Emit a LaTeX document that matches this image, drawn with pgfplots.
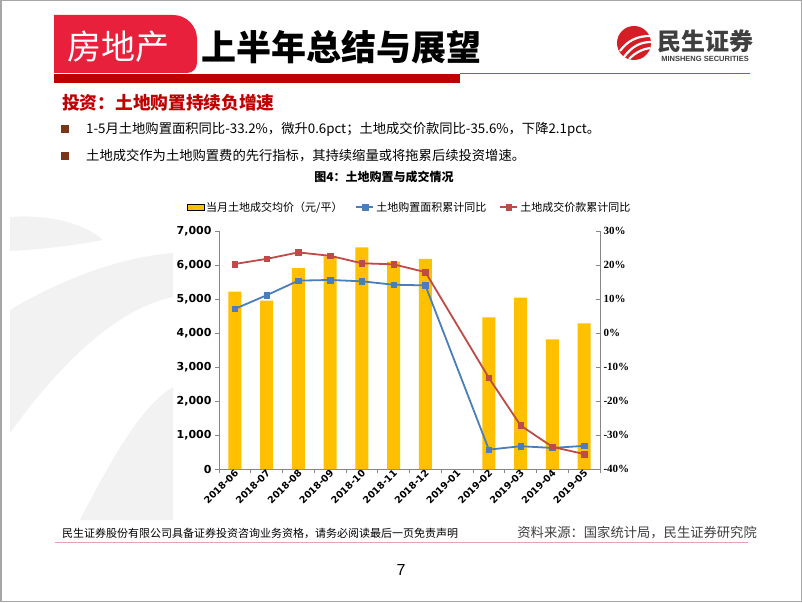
\documentclass[border=0pt]{standalone}
\usepackage{pgfplots}
\pgfplotsset{compat=1.18}
\usepackage{fontspec}
\setmainfont{Liberation Sans}
\newfontfamily\cjk{Noto Sans CJK SC}
\newfontfamily\tnrb{Liberation Serif Bold}
\newfontfamily\tah{DejaVu Sans}

\definecolor{barGold}{HTML}{FFC000}
\definecolor{lineBlue}{HTML}{4A7EBB}
\definecolor{lineRed}{HTML}{BE4B48}
\definecolor{axisgray}{HTML}{868686}
\definecolor{hdrRed}{HTML}{E9203B}
\definecolor{barRed}{HTML}{C00000}
\definecolor{bulletBrown}{HTML}{7B3518}
\definecolor{wmGray}{HTML}{F2F2F2}
\definecolor{logoRed}{HTML}{D41D24}
\definecolor{logoGray}{HTML}{3F3F3F}
\definecolor{pinkLine}{HTML}{E6A3B4}

\begin{document}
\begin{tikzpicture}[x=1pt,y=1pt]
\useasboundingbox (0,0) rectangle (802,602);
\fill[white] (0,0) rectangle (802,602);

% watermark on the left
\fill[wmGray] (10,385) .. controls (50,388) and (85,378) .. (103,362) .. controls (70,356) and (35,352) .. (10,351) -- cycle;
\fill[wmGray] (10,292) .. controls (60,322) and (120,345) .. (173,349) -- (173,305) .. controls (110,292) and (50,225) .. (10,169) -- cycle;
\fill[wmGray] (80,82) .. controls (110,140) and (140,195) .. (173,215) -- (173,82) -- cycle;

% header
\fill[hdrRed] (54,529) -- (54,587) [rounded corners=24pt] -- (197,587) [rounded corners=10pt] -- (197,529) [sharp corners] -- cycle;
\fill[barRed] (54,519) rectangle (460,528);
\draw[lineRed, line width=0.8pt] (460,529) -- (750,529);
\node[white] at (118,555) {\cjk\fontsize{34}{34}\selectfont 房地产};
\node[black] at (341,555) {\cjk\bfseries\fontsize{35}{35}\selectfont 上半年总结与展望};

% logo
\fill[logoRed] (634,559) circle (17);
\draw[white, line width=2.2pt] (620,551) .. controls (628,562) and (638,566) .. (650,566);
\draw[white, line width=2.2pt] (624,545) .. controls (632,556) and (641,560) .. (651,560);
\draw[white, line width=2.2pt] (629,543) .. controls (636,550) and (643,553) .. (650,554);
\node[anchor=west, logoGray, inner sep=0pt] at (657,560.5) {\cjk\bfseries\fontsize{24}{24}\selectfont 民生证券};
\node[logoGray, inner sep=0pt] at (705,543) {\bfseries\fontsize{7.5}{8}\selectfont MINSHENG SECURITIES};

% text block
\node[anchor=west, barRed, inner sep=0pt] at (62,499) {\cjk\bfseries\fontsize{17.7}{18}\selectfont 投资：土地购置持续负增速};
\fill[bulletBrown] (61,469) rectangle (69,477);
\node[anchor=west, inner sep=0pt] at (86,473) {\cjk\fontsize{13.3}{14}\selectfont 1-5月土地购置面积同比-33.2\%，微升0.6pct；土地成交价款同比-35.6\%，下降2.1pct。};
\fill[bulletBrown] (61,442) rectangle (69,450);
\node[anchor=west, inner sep=0pt] at (86,446) {\cjk\fontsize{13.3}{14}\selectfont 土地成交作为土地购置费的先行指标，其持续缩量或将拖累后续投资增速。};
\node at (384,425) {\cjk\bfseries\fontsize{12}{12}\selectfont 图4：土地购置与成交情况};

% footer
\node[anchor=west, inner sep=0pt] at (62,69) {\cjk\fontsize{11}{11}\selectfont 民生证券股份有限公司具备证券投资咨询业务资格，请务必阅读最后一页免责声明};
\node[anchor=east, inner sep=0pt, logoGray] at (757,69) {\cjk\fontsize{13.3}{14}\selectfont 资料来源：国家统计局，民生证券研究院};
\draw[pinkLine, line width=1pt] (55,60) -- (748,60);
\node at (401,32) {\fontsize{16}{16}\selectfont 7};
\draw[gray!70, line width=1.5pt] (0.75,0.75) rectangle (801.25,601.25);

% bars, left axis
\begin{axis}[
    at={(219pt,133pt)}, anchor=south west,
    width=381pt, height=238pt, scale only axis,
    xmin=-0.5, xmax=11.5,
    ymin=0, ymax=7000,
    axis x line*=bottom, axis y line*=left,
    axis line style={draw=axisgray, line width=0.8pt, -},
    xtick={0,...,11},
    xticklabels={2018-06,2018-07,2018-08,2018-09,2018-10,2018-11,2018-12,2019-01,2019-02,2019-03,2019-04,2019-05},
    minor xtick={-0.5,0.5,...,11.5},
    major x tick style={draw=none},
    minor x tick style={draw=axisgray, line width=0.8pt},
    ytick={0,1000,...,7000},
    y tick style={draw=axisgray, line width=0.8pt},
    tick align=outside,
    major tick length=4pt, minor tick length=4pt,
    /pgf/number format/1000 sep={,},
    /pgf/number format/assume math mode=true,
    yticklabel style={font=\tah\bfseries\fontsize{11}{12}\selectfont},
    xticklabel style={font=\tah\bfseries\fontsize{9.5}{11}\selectfont, rotate=45, anchor=east, inner sep=1.5pt, xshift=4pt},
]
\addplot[ybar, bar width=13pt, fill=barGold, draw=none] coordinates {
    (0,5220) (1,4950) (2,5910) (3,6250) (4,6520) (5,6100) (6,6180)
    (8,4460) (9,5040) (10,3810) (11,4280)
};
\end{axis}

% growth lines, right axis
\begin{axis}[
    at={(219pt,133pt)}, anchor=south west,
    width=381pt, height=238pt, scale only axis,
    xmin=-0.5, xmax=11.5,
    ymin=-40, ymax=30,
    axis x line=none, axis y line*=right,
    axis line style={draw=axisgray, line width=0.8pt, -},
    ytick={-40,-30,...,30},
    y tick style={draw=axisgray, line width=0.8pt},
    tick align=inside, major tick length=4pt,
    yticklabel={\pgfmathparse{int(\tick)}\pgfmathresult\%},
    yticklabel style={font=\tnrb\fontsize{11}{12}\selectfont},
    legend style={at={(0.5,1.1)}, anchor=center, draw=none, fill=none,
        legend columns=3, font=\cjk\fontsize{11}{12}\selectfont,
        /tikz/every even column/.append style={column sep=11pt}},
]
\addlegendimage{area legend, fill=barGold, draw=none}
\addlegendentry{当月土地成交均价（元/平）}
\addplot[color=lineBlue, line width=1.8pt, mark=square*, mark size=2.8pt, mark options={fill=lineBlue, line width=0.5pt}] coordinates {
    (0,7.1) (1,11.1) (2,15.4) (3,15.6) (4,15.2) (5,14.2) (6,14.0)
    (8,-34.3) (9,-33.3) (10,-33.8) (11,-33.2)
};
\addlegendentry{土地购置面积累计同比}
\addplot[color=lineRed, line width=1.8pt, mark=square*, mark size=2.8pt, mark options={fill=lineRed, line width=0.5pt}] coordinates {
    (0,20.3) (1,21.8) (2,23.7) (3,22.7) (4,20.5) (5,20.2) (6,17.9)
    (8,-13.2) (9,-27.2) (10,-33.5) (11,-35.6)
};
\addlegendentry{土地成交价款累计同比}
\end{axis}
\end{tikzpicture}
\end{document}
